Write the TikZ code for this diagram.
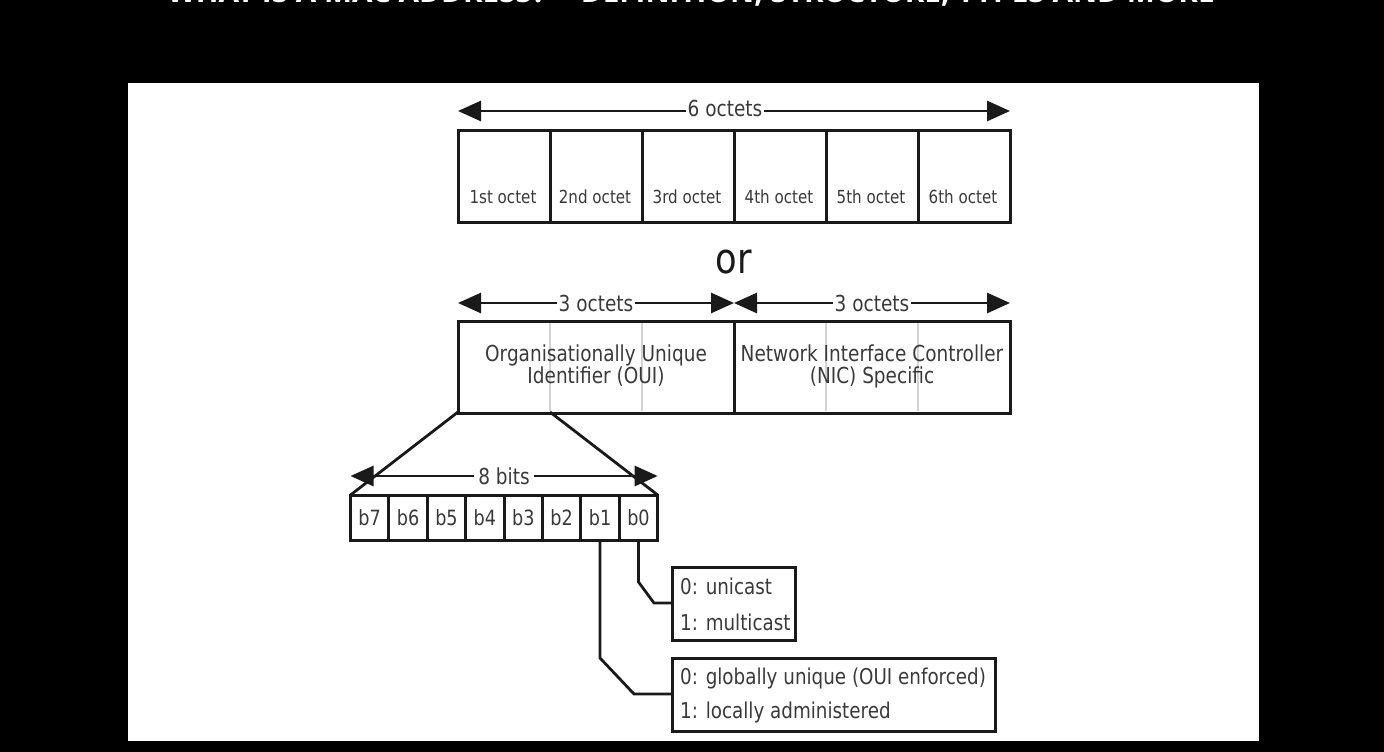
\documentclass[tikz,border=0pt]{standalone}
\usepackage{fontspec}
\setmainfont{DejaVu Sans}[FakeStretch=0.84]
\newfontfamily\titlefont{Open Sans}[FakeStretch=1.0]
\usetikzlibrary{arrows.meta}
\definecolor{ink}{HTML}{1A1A1A}
\definecolor{txt}{HTML}{3A3A3A}
\definecolor{ghost}{HTML}{D4D4D4}
\tikzset{
  x=1pt,y=-1pt,
  box/.style={draw=ink,line width=3pt,fill=white,minimum height=#1,inner sep=0pt,outer sep=0pt,anchor=north west,text=txt},
  cell/.style={box=92pt,minimum width=92pt},
  celltext/.style={text=txt,font=\fontsize{18}{20}\selectfont},
  big/.style={box=92pt},
  bigtext/.style={text=txt,font=\fontsize{22}{22}\selectfont,align=center},
  bit/.style={box=45pt,minimum width=38.4pt,font=\fontsize{21}{22}\selectfont},
  legend/.style={box=#1},
  legendtext/.style={text=txt,font=\fontsize{21.8}{22}\selectfont,anchor=west,inner sep=0pt},
  lab/.style={text=txt,inner sep=1.5pt,fill=white,font=\fontsize{22}{22}\selectfont},
  wire/.style={draw=ink,line width=2.8pt},
  span/.style={wire,{Triangle[length=23pt,width=20pt]}-{Triangle[length=23pt,width=20pt]}},
  ghostline/.style={draw=ghost,line width=1.8pt}
}
\begin{document}
\begin{tikzpicture}
\useasboundingbox (0,0) rectangle (1384,752);
\fill[black] (0,0) rectangle (1384,752);
\fill[white] (128,83) rectangle (1259,741);
\node[text=white,font=\titlefont\bfseries\fontsize{29.7}{30}\selectfont,anchor=center] (title) at (691,-6) {WHAT IS A MAC ADDRESS? -- DEFINITION, STRUCTURE, TYPES AND MORE};

% 6 octets
\node[cell] (o1) at (458,130) {};
\node[cell] (o2) at (550,130) {};
\node[cell] (o3) at (642,130) {};
\node[cell] (o4) at (734,130) {};
\node[cell] (o5) at (826,130) {};
\node[cell] (o6) at (918,130) {};
\node[celltext] (t1) at (503,197) {1st octet};
\node[celltext] (t2) at (595,197) {2nd octet};
\node[celltext] (t3) at (687,197) {3rd octet};
\node[celltext] (t4) at (779,197) {4th octet};
\node[celltext] (t5) at (871,197) {5th octet};
\node[celltext] (t6) at (963,197) {6th octet};
\coordinate (a6l) at (458,111);
\coordinate (a6r) at (1010,111);
\draw[span] (a6l) -- (a6r);
\node[lab] (l6) at (725,108) {6 octets};

\node[text=ink,font=\fontsize{42}{42}\selectfont] (or) at (734,262) {or};

% 3 + 3 octets
\node[big,minimum width=276pt] (oui) at (458,321) {};
\node[big,minimum width=276pt] (nic) at (734,321) {};
\draw[ghostline] (550,323) -- (550,411);
\draw[ghostline] (642,323) -- (642,411);
\draw[ghostline] (826,323) -- (826,411);
\draw[ghostline] (918,323) -- (918,411);
\node[bigtext] (ouit) at (596,366) {Organisationally Unique\\Identifier (OUI)};
\node[bigtext] (nict) at (872,366) {Network Interface Controller\\(NIC) Specific};
\coordinate (a3a) at (458,303);
\coordinate (a3b) at (734,303);
\coordinate (a3c) at (1010,303);
\draw[span] (a3a) -- (a3b);
\draw[span] (a3b) -- (a3c);
\node[lab] (l3a) at (596,303) {3 octets};
\node[lab] (l3b) at (872,303) {3 octets};

% bits
\node[bit] (b7) at (350.5,495) {b7};
\node[bit] (b6) at (388.9,495) {b6};
\node[bit] (b5) at (427.3,495) {b5};
\node[bit] (b4) at (465.7,495) {b4};
\node[bit] (b3) at (504.1,495) {b3};
\node[bit] (b2) at (542.5,495) {b2};
\node[bit] (b1) at (580.9,495) {b1};
\node[bit] (b0) at (619.3,495) {b0};

% zoom lines
\coordinate (zl) at (458,412);
\coordinate (zr) at (550,412);
\coordinate (al) at (350.5,476);
\coordinate (ar) at (657.7,476);
\draw[wire] (zl) -- (b7.north west);
\draw[wire] (zr) -- (b0.north east);
\draw[span] (al) -- (ar);
\node[lab,inner sep=4pt] (l8) at (504,476) {8 bits};

% legends
\node[legend=73pt,minimum width=123pt] (uni) at (672,567) {};
\node[legendtext] (u0) at (680,586) {0: unicast};
\node[legendtext] (u1) at (680,622) {1: multicast};
\node[legend=73pt,minimum width=323pt] (glo) at (672,658) {};
\node[legendtext] (g0) at (680,678) {0: globally unique (OUI enforced)};
\node[legendtext] (g1) at (680,712) {1: locally administered};

\coordinate (k0a) at (638.5,540);
\coordinate (k0b) at (638.5,582);
\coordinate (k0c) at (654,603);
\coordinate (k1a) at (600,540);
\coordinate (k1b) at (600,658);
\coordinate (k1c) at (634,694);
\draw[wire] (k0a) -- (k0b) -- (k0c) -- (uni.west |- k0c);
\draw[wire] (k1a) -- (k1b) -- (k1c) -- (glo.west |- k1c);
\end{tikzpicture}
\end{document}
